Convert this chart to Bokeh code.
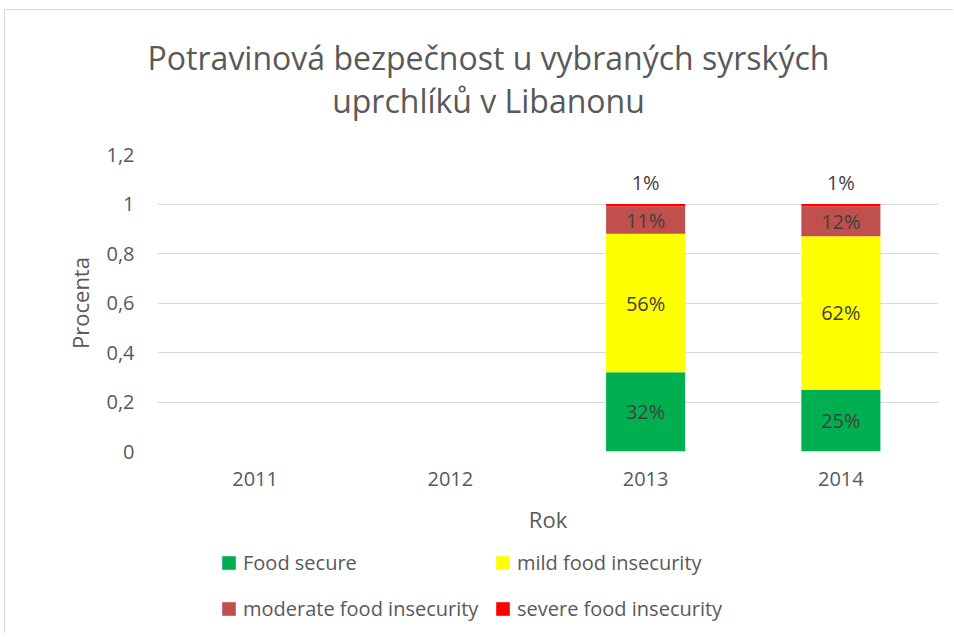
from bokeh.plotting import figure
from bokeh.layouts import column
from bokeh.models import (ColumnDataSource, FactorRange, Range1d, FixedTicker,
                          CustomJSTickFormatter, Legend, LegendItem, LabelSet, Label)
from bokeh.core.properties import value
from bokeh.embed import file_html
from bokeh.resources import INLINE

# ---- data ----
years = ["2011", "2012", "2013", "2014"]
food_secure = [0, 0, 0.32, 0.25]
mild_insecurity = [0, 0, 0.56, 0.62]
moderate_insecurity = [0, 0, 0.11, 0.12]
severe_insecurity = [0, 0, 0.01, 0.01]
series_names = ["Food secure", "mild food insecurity",
                "moderate food insecurity", "severe food insecurity"]
colors = ["#00B050", "#FFFF00", "#C0504D", "#FF0000"]
y_ticks = [0, 0.2, 0.4, 0.6, 0.8, 1.0, 1.2]
title_lines = ["Potravinová bezpečnost u vybraných syrských", "uprchlíků v Libanonu"]

FONT = "Open Sans"
GREY = "#595959"
W = 948

keys = ["fs", "mild", "mod", "sev"]
src = ColumnDataSource(dict(years=years, fs=food_secure, mild=mild_insecurity,
                            mod=moderate_insecurity, sev=severe_insecurity))


def blank(height, x_range, y_range):
    f = figure(width=W, height=height, x_range=x_range, y_range=y_range,
               x_axis_type=None, y_axis_type=None, output_backend="svg",
               toolbar_location=None, min_border=0)
    f.frame_align = False
    f.title = None
    f.grid.visible = False
    f.outline_line_color = None
    return f


# ---- title block ----
TH = 120
pt = blank(TH, Range1d(0, W), Range1d(0, TH))
for txt, yc in zip(title_lines, (47, 90)):
    pt.add_layout(Label(x=483, y=TH - yc, text=txt, text_align="center",
                        text_baseline="middle", text_font=FONT, text_font_size="32px",
                        text_color=GREY))

# ---- main chart ----
p = figure(width=W, height=415, x_range=FactorRange(*years, range_padding=0),
           y_range=Range1d(0, 1.2), output_backend="svg", toolbar_location=None,
           min_border_left=152, min_border_right=15, min_border_top=24,
           min_border_bottom=94)
p.frame_align = False
p.title = None
p.outline_line_color = None

p.vbar_stack(keys, x="years", width=0.405, source=src, color=colors, line_color=None)

p.yaxis.ticker = FixedTicker(ticks=y_ticks)
p.yaxis.formatter = CustomJSTickFormatter(
    code="var s = (Math.round(tick*10)/10).toString(); return s.replace('.', ',');")
for ax in (p.xaxis[0], p.yaxis[0]):
    ax.axis_line_color = None
    ax.major_tick_line_color = None
    ax.minor_tick_line_color = None
    ax.major_label_text_font = FONT
    ax.major_label_text_font_size = "20px"
    ax.major_label_text_color = GREY
    ax.axis_label_text_font = FONT
    ax.axis_label_text_font_size = "22px"
    ax.axis_label_text_color = GREY
    ax.axis_label_text_font_style = "normal"
p.xaxis.axis_label = "Rok"
p.yaxis.axis_label = "Procenta"
p.xaxis.major_label_standoff = 14
p.yaxis.major_label_standoff = 17
p.xaxis.axis_label_standoff = 15
p.yaxis.axis_label_standoff = 8

p.xgrid.grid_line_color = None
p.ygrid.grid_line_color = "#D9D9D9"
p.ygrid.grid_line_width = 1

# data labels
lx, ly, lt = [], [], []
tx, ty, tt = [], [], []
for i, yr in enumerate(years):
    vals = [food_secure[i], mild_insecurity[i], moderate_insecurity[i], severe_insecurity[i]]
    if sum(vals) == 0:
        continue
    base = 0.0
    for j, v in enumerate(vals):
        if j < 3:
            lx.append(yr); ly.append(base + v / 2); lt.append(f"{round(v*100)}%")
        else:
            tx.append(yr); ty.append(base + v); tt.append(f"{round(v*100)}%")
        base += v

p.add_layout(LabelSet(x="x", y="y", text="t", source=ColumnDataSource(dict(x=lx, y=ly, t=lt)),
                      text_align="center", text_baseline="middle", text_font=value(FONT),
                      text_font_size="20px", text_color="#404040"))
p.add_layout(LabelSet(x="x", y="y", text="t", source=ColumnDataSource(dict(x=tx, y=ty, t=tt)),
                      text_align="center", text_baseline="middle", y_offset=22,
                      text_font=value(FONT), text_font_size="20px", text_color="#404040"))

# ---- legend block (2 x 2) ----
# same stacked series, drawn against a y range that keeps the bars out of view,
# so only their legend swatches show
LH = 88
pl = blank(LH, FactorRange(*years, range_padding=0), Range1d(2, 3))
leg_renderers = pl.vbar_stack(keys, x="years", width=0.405, source=src, color=colors,
                              line_color=None)
positions = [(215, 57), (489, 57), (215, 11), (489, 11)]
for name, r, loc in zip(series_names, leg_renderers, positions):
    pl.add_layout(Legend(items=[LegendItem(label=name, renderers=[r])], location=loc,
                         orientation="horizontal", padding=0, margin=0, spacing=0,
                         border_line_color=None, background_fill_alpha=0,
                         glyph_width=17, glyph_height=17, label_standoff=6,
                         label_text_font=FONT, label_text_font_size="20px",
                         label_text_color=GREY, label_height=28), "center")

layout = column(pt, p, pl, spacing=0)
layout.styles = {"margin-left": "4px", "margin-top": "9px",
                 "border-left": "1px solid #D9D9D9", "border-top": "1px solid #D9D9D9"}
open("out.html", "w").write(file_html(layout, INLINE))
